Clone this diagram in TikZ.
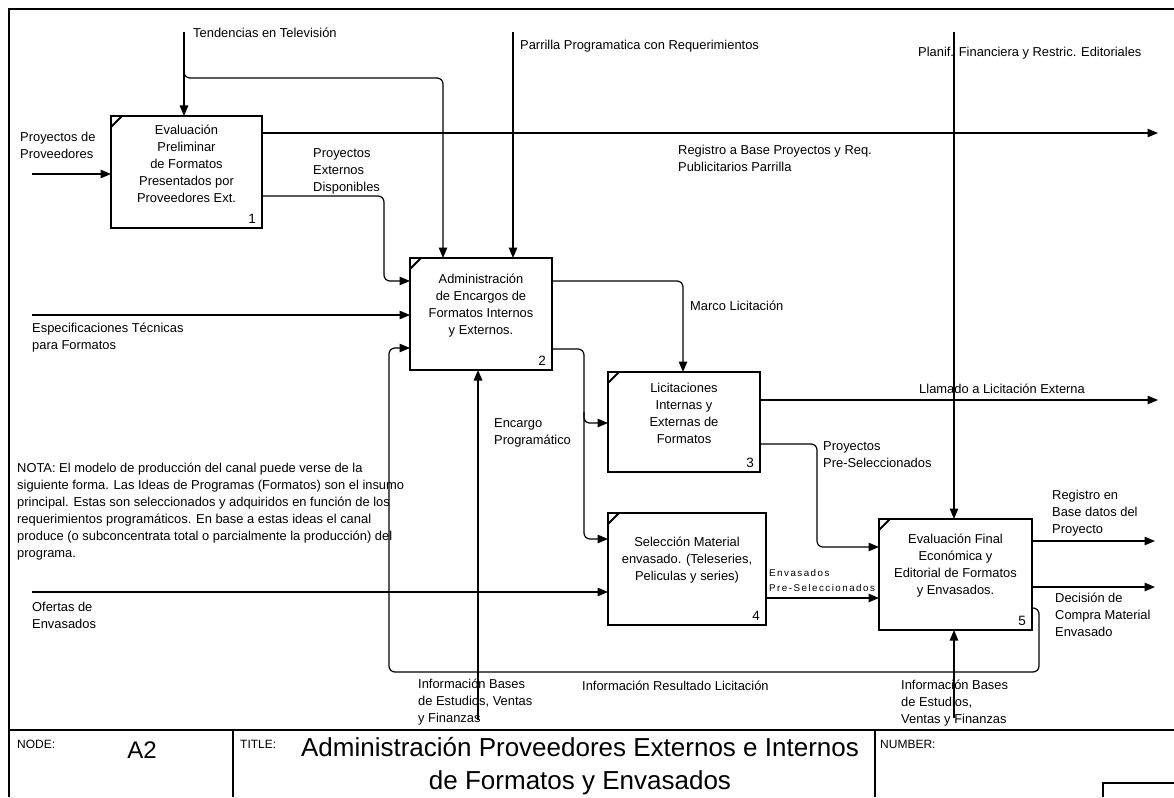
\documentclass[tikz,border=0pt]{standalone}
\usepackage{fontspec}
\setmainfont{Liberation Sans}
\newfontfamily\spacedfont[LetterSpace=15]{Liberation Sans}
\usetikzlibrary{arrows.meta,calc}
\newcommand\fst{\rule{0pt}{12.5pt}}

\begin{document}
\begin{tikzpicture}[x=1pt,y=-1pt,
  conn/.style={line width=1.2pt},
  arr/.style={conn,-{Triangle[length=10.5pt,width=8.5pt]}},
  procbox/.style={draw,line width=2.5pt,inner sep=0pt,outer sep=0pt,anchor=north west},
  cornermark/.style={line width=2pt},
  frameline/.style={line width=1.6pt},
  lab/.style={inner sep=0pt,anchor=north west,align=left,font=\fontsize{12.9}{17}\selectfont},
  boxtext/.style={inner sep=0pt,align=center,font=\fontsize{12.9}{17}\selectfont},
  boxnum/.style={inner sep=0pt,anchor=south east,font=\fontsize{13.5}{17}\selectfont},
  smallcap/.style={inner sep=0pt,anchor=base west,font=\fontsize{12}{14}\selectfont},
  bigtitle/.style={inner sep=0pt,align=center,font=\fontsize{26}{33}\selectfont}
]
\useasboundingbox (0,0) rectangle (1174,797);
\fill[white] (0,0) rectangle (1174,797);

% sheet frame and title block
\draw[frameline] (9,797) -- (9,9) -- (1174,9);
\draw[frameline] (9,730) -- (1174,730);
\draw[frameline] (233,730) -- (233,797);
\draw[frameline] (875,730) -- (875,797);
\draw[line width=1.2pt] (1103,797) |- (1174,783);
\node[smallcap] (nodelbl) at (17,748) {NODE:};
\node[inner sep=0pt,anchor=base,font=\fontsize{24}{28}\selectfont] (nodeid) at (142,758) {A2};
\node[smallcap] (titlelbl) at (240,748) {TITLE:};
\node[bigtitle,anchor=north] (title) at (580,731) {\rule{0pt}{25pt}Administración Proveedores Externos e Internos\\de Formatos y Envasados};
\node[smallcap] (numlbl) at (880,748) {NUMBER:};

% activity boxes
\node[procbox,minimum width=151pt,minimum height=112pt] (b1) at (111,116) {};
\node[procbox,minimum width=142pt,minimum height=112pt] (b2) at (410,258) {};
\node[procbox,minimum width=152pt,minimum height=100pt] (b3) at (608,372) {};
\node[procbox,minimum width=158pt,minimum height=112pt] (b4) at (608,513) {};
\node[procbox,minimum width=153pt,minimum height=111pt] (b5) at (879,519) {};
\foreach \b in {b1,b2,b3,b4,b5}
  \draw[cornermark] ($(\b.north west)+(0,11)$) -- ($(\b.north west)+(11,0)$);

\node[boxtext] (t1) at ($(b1.center)+(0,-10)$) {\fst Evaluación\\Preliminar\\de Formatos\\Presentados por\\Proveedores Ext.};
\node[boxtext] (t2) at ($(b2.center)+(0,-10)$) {\fst Administración\\de Encargos de\\Formatos Internos\\y Externos.};
\node[boxtext] (t3) at ($(b3.center)+(0,-10)$) {\fst Licitaciones\\Internas y\\Externas de\\Formatos};
\node[boxtext] (t4) at ($(b4.center)+(0,-10)$) {\fst Selección Material\\envasado. (Teleseries,\\Peliculas y series)};
\node[boxtext] (t5) at ($(b5.center)+(0,-10)$) {\fst Evaluación Final\\Económica y\\Editorial de Formatos\\y Envasados.};

\node[boxnum] (n1) at ($(b1.south east)+(-6,-4)$) {1};
\node[boxnum] (n2) at ($(b2.south east)+(-6,-4)$) {2};
\node[boxnum] (n3) at ($(b3.south east)+(-6,-4)$) {3};
\node[boxnum] (n4) at ($(b4.south east)+(-6,-4)$) {4};
\node[boxnum] (n5) at ($(b5.south east)+(-6,-4)$) {5};

% free ends of the boundary arrows
\coordinate (tvsrc) at (184,32);
\coordinate (ppsrc) at (513,32);
\coordinate (pfsrc) at (954,32);
\coordinate (pvsrc) at (32,174);
\coordinate (etsrc) at (32,315);
\coordinate (oesrc) at (32,592);
\coordinate (ib1src) at (478,720);
\coordinate (ib2src) at (954,718);
\coordinate (rbdst) at (1158,133);
\coordinate (lldst) at (1158,400);
\coordinate (rddst) at (1155,541);
\coordinate (dcdst) at (1155,587);

% controls
\draw[arr] (tvsrc) -- (tvsrc |- b1.north);
\draw[arr,rounded corners=6pt] ($(tvsrc)+(0,36)$) -- ($(tvsrc)+(0,46)$) -- (443,78) -- (b2.north -| 443,0);
\draw[arr] (ppsrc) -- (ppsrc |- b2.north);
\draw[arr] (pfsrc) -- (pfsrc |- b5.north);
\draw[arr] (b2.east |- 0,281) [rounded corners=6pt] -- (683,281) -- (b3.north -| 683,0);

% inputs
\draw[arr] (pvsrc) -- (pvsrc -| b1.west);
\draw[arr] (etsrc) -- (etsrc -| b2.west);
\draw[arr] (oesrc) -- (oesrc -| b4.west);
\draw[arr,rounded corners=6pt] (b1.east |- 0,196) -- (384,196) -- (384,281) -- (b2.west |- 0,281);
\draw[arr,rounded corners=6pt] (b2.east |- 0,349) -- (584,349) -- (584,539) -- (b4.west |- 0,539);
\draw[arr,rounded corners=5pt] (584,412) -- (584,423) -- (b3.west |- 0,423);
\draw[arr,rounded corners=6pt] (b3.east |- 0,444) -- (817,444) -- (817,547) -- (b5.west |- 0,547);
\draw[arr] (b4.east |- 0,598) -- (b5.west |- 0,598);
\draw[arr,rounded corners=6pt] (b5.east |- 0,608) -- (1039,608) -- (1039,672) -- (389,672) -- (389,348) -- (b2.west |- 0,348);

% outputs
\draw[arr] (b1.east |- rbdst) -- (rbdst);
\draw[arr] (b3.east |- lldst) -- (lldst);
\draw[arr] (b5.east |- rddst) -- (rddst);
\draw[arr] (b5.east |- dcdst) -- (dcdst);

% mechanisms
\draw[arr] (ib1src) -- (ib1src |- b2.south);
\draw[arr] (ib2src) -- (ib2src |- b5.south);

% arrow labels
\node[lab] (tvl) at (193,25) {\fst Tendencias en Televisión};
\node[lab] (ppl) at (520,37) {\fst Parrilla Programatica con Requerimientos};
\node[lab] (pfl) at (918,44) {\fst Planif. Financiera y Restric. Editoriales};
\node[lab] (rbl) at (678,142) {\fst Registro a Base Proyectos y Req.\\Publicitarios Parrilla};
\node[lab] (pvl) at (20,129) {\fst Proyectos de\\Proveedores};
\node[lab] (pedl) at (313,145) {\fst Proyectos\\Externos\\Disponibles};
\node[lab] (etl) at (32,320) {\fst Especificaciones Técnicas\\para Formatos};
\node[lab] (mll) at (690,298) {\fst Marco Licitación};
\node[lab] (epl) at (494,415) {\fst Encargo\\Programático};
\node[lab] (lll) at (919,381) {\fst Llamado a Licitación Externa};
\node[lab] (psl) at (823,438) {\fst Proyectos\\Pre-Seleccionados};
\node[lab] (oel) at (32,599) {\fst Ofertas de\\Envasados};
\node[inner sep=0pt,anchor=north west,align=left,font=\spacedfont\fontsize{9.8}{15}\selectfont] (evl) at (769,567) {\rule{0pt}{9.5pt}Envasados\\Pre-Seleccionados};
\node[lab] (rdl) at (1052,487) {\fst Registro en\\Base datos del\\Proyecto};
\node[lab] (dcl) at (1055,590) {\fst Decisión de\\Compra Material\\Envasado};
\node[lab] (irl) at (582,678) {\fst Información Resultado Licitación};
\node[lab] (ib1l) at (418,676) {\fst Información Bases\\de Estudios, Ventas\\y Finanzas};
\node[lab] (ib2l) at (901,677) {\fst Información Bases\\de Estudios,\\Ventas y Finanzas};

% note
\node[lab] (nota) at (17,460) {\fst NOTA: El modelo de producción del canal puede verse de la\\
siguiente forma. Las Ideas de Programas (Formatos) son el insumo\\
principal. Estas son seleccionados y adquiridos en función de los\\
requerimientos programáticos. En base a estas ideas el canal\\
produce (o subconcentrata total o parcialmente la producción) del\\
programa.};
\end{tikzpicture}
\end{document}
